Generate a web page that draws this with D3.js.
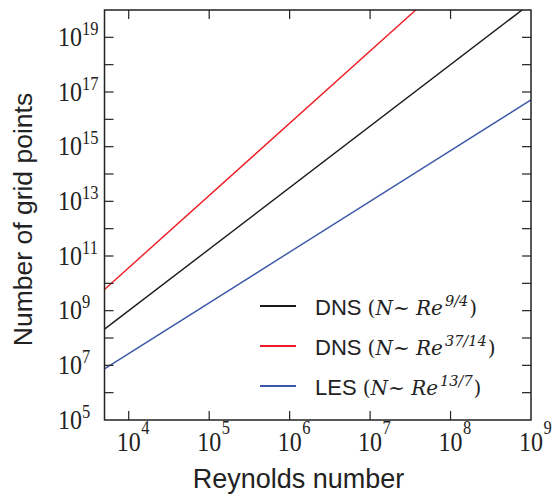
<!DOCTYPE html>
<html>
<head>
<meta charset="utf-8">
<script src="https://cdn.jsdelivr.net/npm/d3@7"></script>
<style>
  html, body { margin: 0; padding: 0; background: #fff; }
  svg { display: block; }
</style>
</head>
<body>
<svg id="chart" width="553" height="496"></svg>
<script>
// Grid-point scaling laws: N ~ Re^(p/q)
const seriesLabels = ["DNS", "DNS", "LES"];
const expNum = [9, 37, 13];
const expDen = [4, 14, 7];
const seriesColors = ["#1a1a1a", "#ed1c24", "#3a56a8"];
const reDomain = [5e3, 1e9];
const nDomain = [1e5, 1e20];
const xTickExps = [4, 5, 6, 7, 8, 9];
const yTickExps = d3.range(5, 21);
const yLabelExps = [5, 7, 9, 11, 13, 15, 17, 19];

const svg = d3.select("#chart");
const L = 104.5, R = 531, T = 10, B = 420;

const x = d3.scaleLog().domain(reDomain).range([L, R]);
const y = d3.scaleLog().domain(nDomain).range([B, T]);

svg.append("defs").append("clipPath").attr("id", "plotclip")
  .append("rect").attr("x", L).attr("y", T).attr("width", R - L).attr("height", B - T);

// power-law lines, straight on log-log axes
const line = d3.line().x(d => x(d[0])).y(d => y(d[1]));
const g = svg.append("g").attr("clip-path", "url(#plotclip)");
expNum.forEach((num, i) => {
  const p = num / expDen[i];
  const pts = reDomain.map(re => [re, Math.pow(re, p)]);
  g.append("path").attr("d", line(pts))
    .attr("fill", "none").attr("stroke", seriesColors[i]).attr("stroke-width", 1.4);
});

// frame
svg.append("rect").attr("x", L).attr("y", T).attr("width", R - L).attr("height", B - T)
  .attr("fill", "none").attr("stroke", "#222").attr("stroke-width", 1.5);

// inward ticks on all four sides
const tickLen = 9;
const tg = svg.append("g").attr("stroke", "#222").attr("stroke-width", 1.2);
xTickExps.forEach(e => {
  const px = x(Math.pow(10, e));
  if (px < R - 1) {
    tg.append("line").attr("x1", px).attr("x2", px).attr("y1", B).attr("y2", B - tickLen);
    tg.append("line").attr("x1", px).attr("x2", px).attr("y1", T).attr("y2", T + tickLen);
  }
});
yTickExps.forEach(e => {
  const py = y(Math.pow(10, e));
  if (py > T + 1 && py < B - 1) {
    tg.append("line").attr("x1", L).attr("x2", L + tickLen).attr("y1", py).attr("y2", py);
    tg.append("line").attr("x1", R).attr("x2", R - tickLen).attr("y1", py).attr("y2", py);
  }
});

const serif = "'Liberation Serif', 'Times New Roman', serif";
const mathSerif = "'DejaVu Serif', 'Liberation Serif', serif";
const sans = "'Liberation Sans', Arial, sans-serif";

// power-of-ten label: base "10" plus raised exponent, slightly tall serif digits
function powerLabel(bx, by, ex, ey, e, anchor) {
  svg.append("text").attr("transform", `translate(${bx},${by}) scale(1,1.12)`)
    .attr("font-family", serif).attr("font-size", 24).attr("fill", "#222")
    .attr("text-anchor", anchor).text("10");
  svg.append("text").attr("transform", `translate(${ex},${ey}) scale(1,1.1)`)
    .attr("font-family", serif).attr("font-size", 16.5).attr("fill", "#222").text(e);
}

// x tick labels: 10 centred on the tick, exponent raised to its right
xTickExps.forEach(e => {
  const px = x(Math.pow(10, e));
  powerLabel(px, 450.5, px + 12.5, 433.5, e, "middle");
});

// y tick labels on odd decades
yLabelExps.forEach(e => {
  const py = y(Math.pow(10, e));
  powerLabel(58, py + 8.5, 82, py - 2.5, e, "start");
});

// axis titles
svg.append("text").attr("x", 298.5).attr("y", 488)
  .attr("font-family", sans).attr("font-size", 27).attr("fill", "#222")
  .attr("text-anchor", "middle").text("Reynolds number");
svg.append("text").attr("transform", "translate(31.5,219.5) rotate(-90)")
  .attr("font-family", sans).attr("font-size", 26.5).attr("fill", "#222")
  .attr("text-anchor", "middle").text("Number of grid points");

// legend
const legY = [306, 346, 386];
seriesLabels.forEach((lab, i) => {
  const ly = legY[i];
  svg.append("line").attr("x1", 260).attr("x2", 296).attr("y1", ly).attr("y2", ly)
    .attr("stroke", seriesColors[i]).attr("stroke-width", 2);
  const t = svg.append("text").attr("x", 315).attr("y", ly + 8.5)
    .attr("font-size", 22).attr("fill", "#222");
  t.append("tspan").attr("font-family", sans).text(lab + " ");
  t.append("tspan").attr("font-family", mathSerif).attr("font-size", 20).text("(");
  t.append("tspan").attr("font-family", mathSerif).attr("font-style", "italic").attr("font-size", 20).text("N");
  t.append("tspan").attr("font-family", mathSerif).attr("font-size", 20).text("~ ");
  t.append("tspan").attr("font-family", mathSerif).attr("font-style", "italic").attr("font-size", 20).text("Re");
  t.append("tspan").attr("font-family", mathSerif).attr("font-style", "italic").attr("font-size", 14.5)
    .attr("dx", 2).attr("dy", -8.5).text(expNum[i] + "/" + expDen[i]);
  t.append("tspan").attr("font-family", mathSerif).attr("font-size", 20).attr("dx", 1).attr("dy", 8.5).text(")");
});
</script>
</body>
</html>
